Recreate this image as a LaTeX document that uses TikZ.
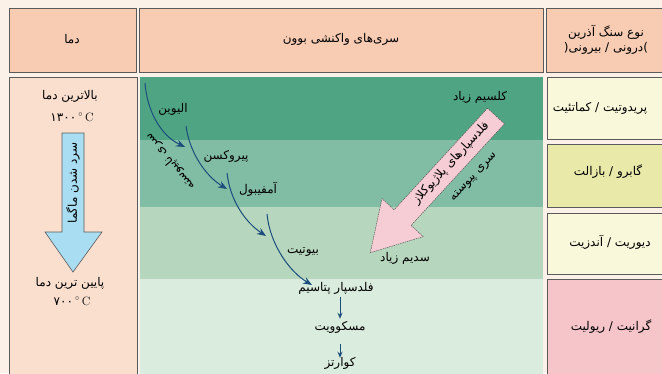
\documentclass[tikz,border=0pt]{standalone}
\usepackage{fontspec}
\newfontfamily\arabicfont[Script=Arabic]{DejaVu Sans}
\TeXXeTstate=1
\usetikzlibrary{arrows.meta}
\definecolor{bgcol}{HTML}{FCF1E9}
\definecolor{headcol}{HTML}{F8CCB3}
\definecolor{leftcol}{HTML}{FADFCF}
\definecolor{gA}{HTML}{4FA583}
\definecolor{gB}{HTML}{81BCA4}
\definecolor{gC}{HTML}{B6D6BD}
\definecolor{gD}{HTML}{D9ECDD}
\definecolor{rA}{HTML}{FAF8DB}
\definecolor{rB}{HTML}{E9E9AA}
\definecolor{rD}{HTML}{F6C5CA}
\definecolor{bluearr}{HTML}{A9DDF1}
\definecolor{pinkarr}{HTML}{F6CDD4}
\definecolor{linecol}{HTML}{1B4D7C}
\definecolor{edgecol}{HTML}{5A5A5A}
\tikzset{
  cell/.style={draw=edgecol, line width=0.8pt},
  lbl/.style={font=\arabicfont\fontsize{12}{15}\selectfont, inner sep=1pt, text=black},
  flow/.style={draw=linecol, line width=1pt, -{Stealth[length=9pt,width=7pt]}},
  shortflow/.style={draw=linecol, line width=1pt, -{Stealth[length=6pt,width=5pt]}},
}
\begin{document}
\begin{tikzpicture}[x=1pt,y=-1pt]
\useasboundingbox (0,0) rectangle (662,373);
\fill[bgcol] (0,0) rectangle (662,373);
\begin{scope}
\clip (0,0) rectangle (662,373);
% header row
\draw[cell, fill=headcol] (9,8) rectangle (136,72);
\draw[cell, fill=headcol] (139,8) rectangle (543,72);
\draw[cell, fill=headcol] (546,8) rectangle (672,72);
% body: left column
\draw[cell, fill=leftcol] (9,77) rectangle (137,380);
% body: middle bands
\fill[gA] (140,77) rectangle (543,140);
\fill[gB] (140,140) rectangle (543,207);
\fill[gC] (140,207) rectangle (543,279);
\fill[gD] (140,279) rectangle (543,380);
% body: right column
\draw[cell, fill=rA] (547,77) rectangle (672,139);
\draw[cell, fill=rB] (547,144) rectangle (672,207);
\draw[cell, fill=rA] (547,213) rectangle (672,274);
\draw[cell, fill=rD] (547,279) rectangle (672,380);
\end{scope}

% header texts
\node[lbl] (hT) at (72,39) {دما};
\node[lbl] (hB) at (341,39) {\beginR سری‌های واکنشی بوون\endR};
\node[lbl, align=center] (hR) at (606,40) {\beginR نوع سنگ آذرین\endR\\\beginR\mbox{)}درونی / بیرونی\mbox{(}\endR};

% left column
\node[lbl] (hot) at (70,96) {\beginR بالاترین دما\endR};
\node[lbl] (hotT) at (72,117) {۱۳۰۰\,$^{\circ}$\,{\rmfamily C}};
\draw[draw=edgecol, fill=bluearr, line width=0.6pt]
  (62,133) -- (84,133) -- (84,232) -- (102,232) -- (73,272) -- (45,232) -- (62,232) -- cycle;
\node[lbl, rotate=90] (cool) at (73,183) {\beginR سرد شدن ماگما\endR};
\node[lbl] (cold) at (70,283) {\beginR پایین ترین دما\endR};
\node[lbl] (coldT) at (72,301) {۷۰۰\,$^{\circ}$\,{\rmfamily C}};

% pink block arrow
\draw[draw=edgecol, fill=pinkarr, line width=0.5pt, dash pattern=on 1.5pt off 0.8pt]
  (487.5,108.2) -- (504.5,123.8) -- (411.1,225.4) -- (423.2,236.6) -- (370.3,252.7)
  -- (382.0,198.6) -- (394.1,209.8) -- cycle;
\node[lbl, rotate=47.4] (plag) at (451,163) {\beginR فلدسپارهای پلاژیوکلاز\endR};
\node[lbl, rotate=47.4] (cont) at (474,177) {\beginR سری پیوسته\endR};
\node[lbl] (ca) at (480,97) {\beginR کلسیم زیاد\endR};
\node[lbl] (na) at (405,258) {\beginR سدیم زیاد\endR};

% discontinuous series
\node[lbl] (ol) at (173,109) {الیوین};
\node[lbl] (px) at (226,156) {پیروکسن};
\node[lbl] (am) at (258,189) {آمفیبول};
\node[lbl] (bi) at (303,252) {بیوتیت};
\node[lbl] (kf) at (336,288) {\beginR فلدسپار پتاسیم\endR};
\node[lbl] (mu) at (340,327) {مسکوویت};
\node[lbl] (qz) at (340,363) {کوارتز};
\node[lbl, rotate=130] (disc) at (170,162) {\beginR سری ناپیوسته\endR};

% right column texts
\node[lbl] (r1) at (600,108) {\beginR پریدوتیت / کماتئیت\endR};
\node[lbl] (r2) at (608,172) {\beginR گابرو / بازالت\endR};
\node[lbl] (r3) at (610,242) {\beginR دیوریت / آندزیت\endR};
\node[lbl] (r4) at (611,327) {\beginR گرانیت / ریولیت\endR};

\coordinate (c1s) at (145,83);  \coordinate (c1e) at (185,147);
\coordinate (c2s) at (186,126); \coordinate (c2e) at (227,189);
\coordinate (c3s) at (227,173); \coordinate (c3e) at (266,236);
\coordinate (c4s) at (267,214); \coordinate (c4e) at (312,285);
\draw[flow] (c1s) .. controls (147,110) and (160,135) .. (c1e);
\draw[flow] (c2s) .. controls (189,150) and (204,175) .. (c2e);
\draw[flow] (c3s) .. controls (230,200) and (245,222) .. (c3e);
\draw[flow] (c4s) .. controls (270,245) and (290,272) .. (c4e);
\draw[shortflow] ([yshift=-2pt]kf.south -| mu) -- ([yshift=1pt]mu.north);
\draw[shortflow] ([yshift=-10pt]mu.south) -- ([yshift=-2pt]qz.north);
\end{tikzpicture}
\end{document}
